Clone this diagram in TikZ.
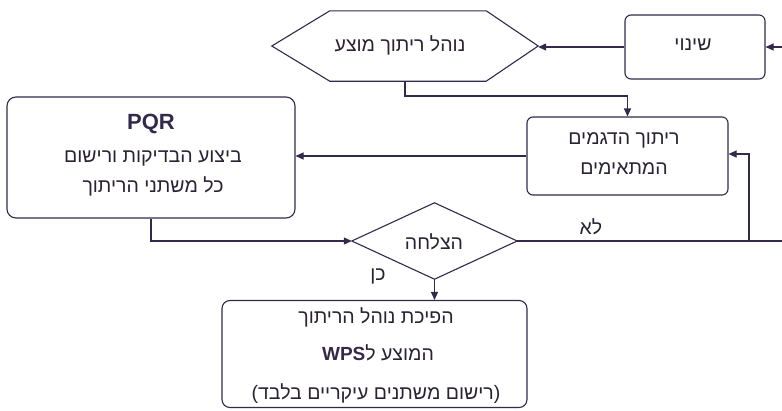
\documentclass[tikz,border=0pt]{standalone}
\usepackage{fontspec}
\setmainfont{Liberation Sans}
\newfontfamily\heb[Script=Hebrew]{Liberation Sans}
\TeXXeTstate=1
\usetikzlibrary{arrows.meta,calc}
\definecolor{ink}{HTML}{33294A}
\definecolor{txt}{HTML}{2A2233}
\newcommand\HE[1]{{\heb\beginR #1\endR}}
\begin{document}
\begin{tikzpicture}[x=1pt,y=-1pt,
  every node/.style={text=txt,font=\fontsize{19.5}{23}\selectfont},
  box/.style={draw=ink,line width=1.1pt,rounded corners=6pt,inner sep=0pt},
  shapebox/.style={draw=none,inner sep=0pt},
  conn/.style={draw=ink,line width=1.1pt},
  arr/.style={conn,-{Triangle[length=8pt,width=7pt]}},
  lbl/.style={inner sep=0pt},
  latin/.style={font=\fontsize{21}{24}\selectfont\bfseries,text=ink}]
\useasboundingbox (0,0) rectangle (782,410);
\fill[white] (0,0) rectangle (782,410);

% boxes
\node[box,minimum width=140pt,minimum height=64pt] (shinui) at (695,47) {};
\node[lbl] (tshinui) at (693,45) {\HE{שינוי}};

\node[shapebox,minimum width=266pt,minimum height=70pt] (hex) at (405,46) {};
\draw[conn] (hex.west) -- ($(hex.north west)+(58,0)$) -- ($(hex.north east)+(-52,0)$) -- (hex.east)
  -- ($(hex.south east)+(-52,0)$) -- ($(hex.south west)+(58,0)$) -- cycle;
\node[lbl] (thex) at (400,45) {\HE{נוהל ריתוך מוצע}};

\node[box,minimum width=201pt,minimum height=78pt] (box2) at (627.5,156) {};
\node[lbl] (tb2a) at (624,140) {\HE{ריתוך הדגמים}};
\node[lbl] (tb2b) at (624,169) {\HE{המתאימים}};

\node[box,rounded corners=9pt,minimum width=288pt,minimum height=121pt] (pqr) at (151,157.5) {};
\node[lbl,latin,font=\fontsize{22}{25}\selectfont\bfseries] (tpqa) at (151,124) {PQR};
\node[lbl] (tpqb) at (153,158) {\HE{ביצוע הבדיקות ורישום}};
\node[lbl] (tpqc) at (153,186) {\HE{כל משתני הריתוך}};

\node[shapebox,minimum width=165pt,minimum height=76pt] (dia) at (434.5,241) {};
\draw[conn] (dia.west) -- (dia.north) -- (dia.east) -- (dia.south) -- cycle;
\node[lbl] (tdia) at (434,242) {\HE{הצלחה}};

\node[box,rounded corners=8pt,minimum width=305pt,minimum height=107pt] (final) at (374.5,354) {};
\node[lbl] (tfa) at (376,317) {\HE{הפיכת נוהל הריתוך}};
\node[lbl] (tfb) at (378,353) {{\fontsize{19}{22}\selectfont\bfseries\color{ink}WPS}\HE{המוצע ל}};
\node[lbl] (tfc) at (376,394) {(\HE{רישום משתנים עיקריים בלבד})};

% labels
\node[lbl] (lno) at (591,227) {\HE{לא}};
\node[lbl] (lyes) at (378,276) {\HE{כן}};

% connectors
\coordinate (inR) at (782,47);
\coordinate (outR) at (782,241);
\coordinate (split) at (749,241);
\coordinate (hexdrop) at (405,96);

\draw[arr] (inR) -- (shinui.east);
\draw[arr] (shinui.west) -- (shinui.west -| hex.east);
\draw[arr] (hex.south) -- (hexdrop) -| (box2.north);
\draw[arr] (box2.west) -- (box2.west -| pqr.east);
\draw[arr] (pqr.south) |- (dia.west);
\draw[conn] (dia.east) -- (outR);
\draw[arr] (split) |- ($(box2.east)+(0,-2)$);
\draw[arr] (dia.south) -- (dia.south |- final.north);
\end{tikzpicture}
\end{document}
